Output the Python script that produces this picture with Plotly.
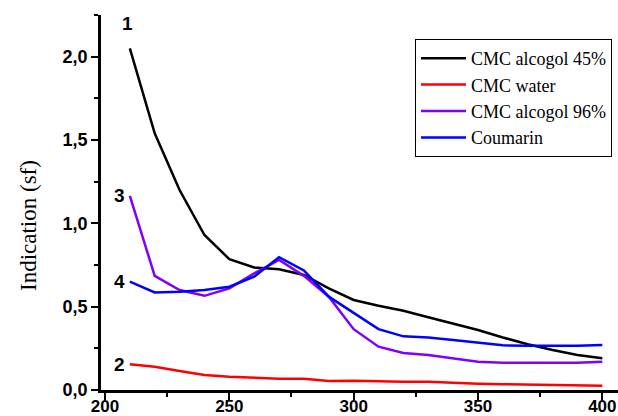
import plotly.graph_objects as go

wavelength = [210, 220, 230, 240, 250, 260, 270, 280, 290, 300,
              310, 320, 330, 340, 350, 360, 370, 380, 390, 400]
cmc_alc45 = [2.05, 1.54, 1.20, 0.93, 0.785, 0.735, 0.725, 0.69, 0.61, 0.54,
             0.505, 0.476, 0.437, 0.40, 0.36, 0.315, 0.275, 0.24, 0.21, 0.19]
cmc_water = [0.154, 0.14, 0.114, 0.09, 0.08, 0.072, 0.068, 0.068, 0.054, 0.056,
             0.052, 0.05, 0.05, 0.043, 0.038, 0.035, 0.032, 0.028, 0.027, 0.026]
cmc_alc96 = [1.165, 0.685, 0.60, 0.565, 0.61, 0.70, 0.78, 0.685, 0.56, 0.365,
             0.26, 0.222, 0.21, 0.19, 0.17, 0.164, 0.164, 0.163, 0.163, 0.17]
coumarin = [0.65, 0.585, 0.59, 0.60, 0.62, 0.68, 0.797, 0.717, 0.56, 0.46,
            0.365, 0.322, 0.315, 0.30, 0.285, 0.268, 0.265, 0.265, 0.265, 0.27]

series_names = ["CMC alcogol 45%", "CMC water", "CMC alcogol 96%", "Coumarin"]
series_vals = [cmc_alc45, cmc_water, cmc_alc96, coumarin]
series_colors = ["#000000", "#ff0000", "#7f00ff", "#0000ff"]
curve_labels = ["1", "2", "3", "4"]
y_title = "Indication (sf)"

fig = go.Figure()
for name, vals, col in zip(series_names, series_vals, series_colors):
    fig.add_trace(go.Scatter(x=wavelength, y=vals, mode="lines", name=name,
                             line=dict(color=col, width=2.5)))

labfont = dict(family="Liberation Sans, Arial", size=19, color="black", weight="bold")
# curve number labels at the start of each curve
label_offsets = [(-2, 0.15, "center"), (-3, 0.0, "right"), (-3, 0.0, "right"), (-3, 0.0, "right")]
for lab, vals, (dx, dy, xa) in zip(curve_labels, series_vals, label_offsets):
    fig.add_annotation(x=wavelength[0], y=vals[0] + dy, text=lab, showarrow=False,
                       xanchor=xa, yanchor="middle", xshift=dx, font=labfont)

fig.add_annotation(xref="paper", yref="paper", x=(28 - 101) / 517, y=(390 - 226) / 375,
                   text=y_title, textangle=-90, showarrow=False,
                   xanchor="center", yanchor="middle",
                   font=dict(family="Liberation Serif, Times New Roman", size=23, color="black"))

tickfont = dict(family="Liberation Sans, Arial", size=18, color="black", weight="bold")
xtickfont = dict(family="Liberation Sans, Arial", size=17, color="black", weight="bold")

fig.update_layout(
    width=618, height=416,
    margin=dict(l=101, r=0, t=15, b=26, autoexpand=False),
    paper_bgcolor="white", plot_bgcolor="white",
    separators=",.",
    showlegend=True,
    legend=dict(x=(415 - 101) / 517, y=(390 - 39) / 375, xanchor="left", yanchor="top",
                bordercolor="black", borderwidth=1, bgcolor="white",
                font=dict(family="Liberation Serif, Times New Roman", size=18, color="black"),
                tracegroupgap=0, itemwidth=45),
    xaxis=dict(range=[198.4, 406.3], showgrid=False, zeroline=False, automargin=False,
               showline=True, linecolor="black", linewidth=2.5,
               ticks="outside", tickwidth=2, ticklen=7, tickcolor="black",
               tick0=200, dtick=50, tickfont=xtickfont, ticklabeloverflow="allow",
               ticklabelstandoff=-8,
               minor=dict(ticks="outside", tick0=225, dtick=50, ticklen=4,
                          tickwidth=2, tickcolor="black")),
    yaxis=dict(range=[0, 2.25], showgrid=False, zeroline=False, automargin=False,
               showline=True, linecolor="black", linewidth=2.5,
               ticks="outside", tickwidth=2, ticklen=7, tickcolor="black",
               tick0=0, dtick=0.5, tickformat=".1f", tickfont=tickfont,
               ticklabeloverflow="allow",
               minor=dict(ticks="outside", tick0=0.25, dtick=0.5, ticklen=4,
                          tickwidth=2, tickcolor="black")),
)

fig.write_html("out.html")
